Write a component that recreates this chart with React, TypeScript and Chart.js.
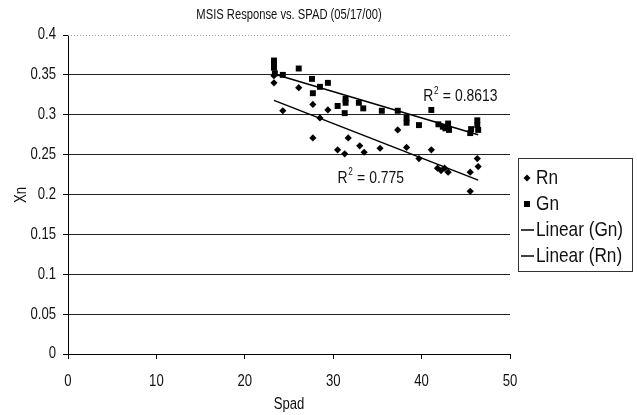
import { useEffect, useRef } from 'react';
import { Chart, registerables } from 'chart.js';

Chart.register(...registerables);

const FONT = "'Liberation Sans', Arial, sans-serif";

const chartTitle = 'MSIS Response vs. SPAD (05/17/00)';
const xTitle = 'Spad';
const yTitle = 'Xn';

const xTickValues = [0, 10, 20, 30, 40, 50];
const xTickLabels = ['0', '10', '20', '30', '40', '50'];
const yTickValues = [0, 0.05, 0.1, 0.15, 0.2, 0.25, 0.3, 0.35, 0.4];
const yTickLabels = ['0', '0.05', '0.1', '0.15', '0.2', '0.25', '0.3', '0.35', '0.4'];

const seriesNames = ['Rn', 'Gn', 'Linear (Gn)', 'Linear (Rn)'];

const rnX = [23.3, 23.3, 24.3, 26.1, 27.7, 27.7, 28.5, 29.4, 30.5, 31.3, 31.7, 33.0, 33.5, 35.3, 37.3, 38.3, 39.7, 41.1, 41.8, 42.2, 42.6, 43.0, 45.5, 45.5, 46.3, 46.4];
const rnY = [0.349, 0.340, 0.305, 0.334, 0.313, 0.271, 0.296, 0.306, 0.256, 0.251, 0.271, 0.261, 0.253, 0.258, 0.281, 0.259, 0.245, 0.256, 0.233, 0.230, 0.233, 0.228, 0.228, 0.204, 0.245, 0.235];

const gnX = [23.3, 23.3, 23.3, 23.4, 24.3, 26.1, 27.6, 27.7, 28.5, 29.4, 30.5, 31.4, 31.4, 31.3, 32.9, 33.4, 35.5, 37.3, 38.3, 38.3, 39.7, 41.1, 41.9, 42.4, 42.7, 43.0, 43.1, 45.5, 45.6, 46.3, 46.3, 46.4];
const gnY = [0.368, 0.364, 0.359, 0.352, 0.350, 0.358, 0.345, 0.327, 0.335, 0.340, 0.311, 0.320, 0.315, 0.302, 0.315, 0.308, 0.305, 0.305, 0.296, 0.290, 0.287, 0.306, 0.288, 0.285, 0.283, 0.289, 0.281, 0.277, 0.282, 0.293, 0.287, 0.281];

const gnTrendX = [23.3, 46.4];
const gnTrendY = [0.351, 0.275];
const rnTrendX = [23.3, 46.4];
const rnTrendY = [0.318, 0.218];

const gnR2 = '0.8613';
const rnR2 = '0.775';

const pts = (xs: number[], ys: number[]) => xs.map((x, i) => ({ x, y: ys[i] }));

// draw horizontally condensed text (Arial Narrow look)
function cText(ctx: any, text: string, x: number, y: number, size: number, align: string, sx = 0.82) {
  ctx.save();
  ctx.font = `${size}px ${FONT}`;
  ctx.textBaseline = 'middle';
  ctx.textAlign = 'left';
  const w = ctx.measureText(text).width * sx;
  let left = x;
  if (align === 'center') left = x - w / 2;
  else if (align === 'right') left = x - w;
  ctx.translate(left, y);
  ctx.scale(sx, 1);
  ctx.fillText(text, 0, 0);
  ctx.restore();
  return w;
}

const overlayPlugin = {
  id: 'overlay',
  beforeDatasetsDraw(chart: any) {
    const { ctx, chartArea } = chart;
    ctx.save();
    ctx.strokeStyle = '#9a9a9a';
    ctx.lineWidth = 1;
    ctx.setLineDash([1, 2]);
    ctx.beginPath();
    ctx.moveTo(chartArea.left, Math.round(chartArea.top) + 0.5);
    ctx.lineTo(chartArea.right, Math.round(chartArea.top) + 0.5);
    ctx.stroke();
    ctx.restore();
  },
  afterDraw(chart: any) {
    const { ctx, chartArea, scales } = chart;
    const xs = scales.x;
    const ys = scales.y;
    ctx.save();
    ctx.fillStyle = '#111';

    // tick labels
    yTickValues.forEach((v, i) => {
      cText(ctx, yTickLabels[i], chartArea.left - 12, ys.getPixelForValue(v), 16, 'right');
    });
    xTickValues.forEach((v, i) => {
      cText(ctx, xTickLabels[i], xs.getPixelForValue(v), 382, 16, 'center');
    });

    // title
    cText(ctx, chartTitle, (chartArea.left + chartArea.right) / 2, 15, 14, 'center', 0.8);

    // axis titles
    cText(ctx, xTitle, (chartArea.left + chartArea.right) / 2, 405, 16, 'center');
    ctx.save();
    ctx.translate(22, 195);
    ctx.rotate(-Math.PI / 2);
    cText(ctx, yTitle, 0, 0, 16, 'center');
    ctx.restore();

    // R² labels
    const drawR2 = (px: number, py: number, val: string) => {
      let x = px;
      x += cText(ctx, 'R', x, py, 17, 'left');
      x += cText(ctx, '2', x + 0.5, py - 6, 10, 'left') + 1;
      cText(ctx, ' = ' + val, x, py, 17, 'left');
    };
    drawR2(xs.getPixelForValue(40.2), ys.getPixelForValue(0.3225), gnR2);
    drawR2(xs.getPixelForValue(30.5), ys.getPixelForValue(0.22), rnR2);

    // legend
    const bx = 518, by = 158, bw = 114, bh = 113;
    ctx.strokeStyle = '#333';
    ctx.lineWidth = 1;
    ctx.strokeRect(bx + 0.5, by + 0.5, bw, bh);
    const rowY = [178, 204, 230, 256];
    seriesNames.forEach((name, i) => {
      const cy = rowY[i];
      ctx.fillStyle = '#000';
      if (i === 0) {
        ctx.beginPath();
        ctx.moveTo(527, cy - 3.5);
        ctx.lineTo(530.5, cy);
        ctx.lineTo(527, cy + 3.5);
        ctx.lineTo(523.5, cy);
        ctx.closePath();
        ctx.fill();
      } else if (i === 1) {
        ctx.fillRect(524, cy - 3, 6, 6);
      } else {
        ctx.strokeStyle = '#000';
        ctx.lineWidth = 1.5;
        ctx.beginPath();
        ctx.moveTo(521, cy);
        ctx.lineTo(534, cy);
        ctx.stroke();
      }
      ctx.fillStyle = '#111';
      cText(ctx, name, 536, cy, 21, 'left', 0.82);
    });
    ctx.restore();
  },
};

export default function App() {
  const ref = useRef<HTMLCanvasElement | null>(null);

  useEffect(() => {
    if (!ref.current) return;
    const chart = new Chart(ref.current, {
      type: 'scatter',
      data: {
        datasets: [
          {
            label: seriesNames[0],
            data: pts(rnX, rnY),
            pointStyle: 'rectRot',
            pointRadius: 3.6,
            pointBackgroundColor: '#000',
            pointBorderWidth: 0,
            borderColor: '#000',
            backgroundColor: '#000',
          },
          {
            label: seriesNames[1],
            data: pts(gnX, gnY),
            pointStyle: 'rect',
            pointRadius: 4.2,
            pointBackgroundColor: '#000',
            pointBorderWidth: 0,
            borderColor: '#000',
            backgroundColor: '#000',
          },
          {
            label: seriesNames[2],
            data: pts(gnTrendX, gnTrendY),
            showLine: true,
            pointRadius: 0,
            borderColor: '#000',
            borderWidth: 1.5,
          },
          {
            label: seriesNames[3],
            data: pts(rnTrendX, rnTrendY),
            showLine: true,
            pointRadius: 0,
            borderColor: '#000',
            borderWidth: 1.5,
          },
        ],
      },
      options: {
        responsive: false,
        animation: false,
        devicePixelRatio: 1,
        layout: { padding: { top: 35, right: 127, left: 0, bottom: 0 } },
        plugins: {
          legend: { display: false },
          title: { display: false },
          tooltip: { enabled: false },
        },
        scales: {
          x: {
            type: 'linear',
            min: 0,
            max: 50,
            afterBuildTicks: (s: any) => {
              s.ticks = xTickValues.map((v) => ({ value: v }));
            },
            afterFit: (s: any) => {
              s.height = 61;
            },
            grid: { drawOnChartArea: false, drawTicks: true, tickLength: 5, color: '#000', tickColor: '#000' },
            border: { display: true, color: '#000', width: 1 },
            ticks: { display: false },
          },
          y: {
            type: 'linear',
            min: 0,
            max: 0.4,
            afterBuildTicks: (s: any) => {
              s.ticks = yTickValues.map((v) => ({ value: v }));
            },
            afterFit: (s: any) => {
              s.width = 68;
            },
            grid: {
              drawTicks: true,
              tickLength: 5,
              color: (c: any) => (c.tick && c.tick.value >= 0.399 ? 'rgba(0,0,0,0)' : '#222'),
              tickColor: '#000',
              lineWidth: 1,
            },
            border: { display: true, color: '#000', width: 1 },
            ticks: { display: false },
          },
        },
      },
      plugins: [overlayPlugin],
    } as any);
    return () => chart.destroy();
  }, []);

  return (
    <div style={{ position: 'fixed', left: 0, top: 0, width: 637, height: 415, background: '#fff' }}>
      <canvas ref={ref} width={637} height={415} style={{ width: 637, height: 415 }} />
    </div>
  );
}
